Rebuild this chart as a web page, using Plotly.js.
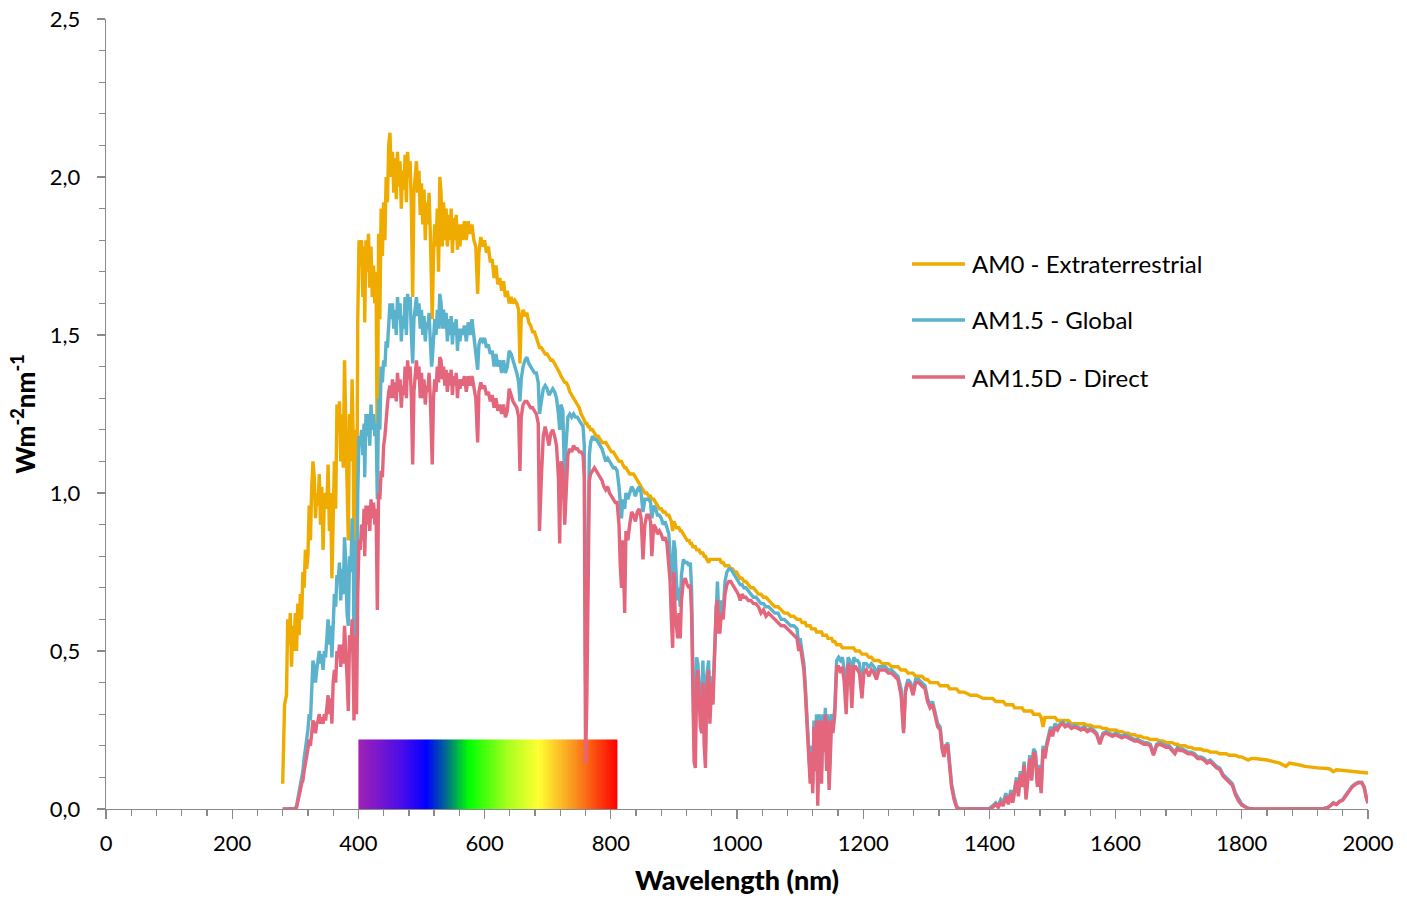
<!DOCTYPE html>
<html><head><meta charset="utf-8">
<script src="https://cdn.plot.ly/plotly-3.0.1.min.js"></script>
<style>html,body{margin:0;padding:0;background:#fff;}#chart{width:1407px;height:899px;}</style>
</head><body><div id="chart"></div>
<script>
// Wavelength (nm)
const wl = [
280,283,286,288,290,292,294,296,298,300,
302,304,306,308,310,312,314,316,318,320,
322,324,326,328,330,332,334,336,338,340,
342,344,346,348,350,352,354,356,358,360,
362,364,366,368,370,372,374,376,378,380,
382,384,386,388,390,392,393,395,397,399,
401,403,405,407,409,410,412,414,416,418,
420,422,424,426,428,430,432,434,436,438,
440,442,444,446,448,450,452,454,456,458,
460,462,464,466,468,470,472,474,476,478,
480,482,484,486,488,490,492,494,496,498,
500,502,504,506,508,510,512,514,516,517,
519,521,523,525,527,529,531,533,535,537,
539,541,543,545,547,549,551,553,555,557,
559,561,563,565,568,571,574,577,580,583,
586,589,591,594,597,600,603,606,609,612,
615,618,621,624,627,630,633,636,639,642,
645,648,651,654,656,658,661,664,667,670,
673,676,679,682,685,687,690,693,696,699,
702,705,708,711,714,717,719,721,724,727,
729,732,735,738,741,744,747,750,753,756,
758,760,762,764,766,768,771,774,777,780,
783,786,789,792,795,798,801,804,807,810,
813,815,817,819,822,824,827,830,833,836,
839,842,845,848,851,854,857,860,863,865,
868,871,874,877,880,883,886,889,892,894,
896,898,900,902,904,906,908,910,912,915,
918,921,924,926,928,930,932,934,936,938,
940,942,944,946,948,950,952,955,957,960,
962,965,967,969,971,973,975,978,981,984,
987,990,993,996,999,1002,1005,1008,1011,1014,
1018,1022,1026,1030,1034,1038,1042,1046,1050,1055,
1060,1065,1070,1075,1080,1085,1090,1095,1098,1100,
1103,1106,1108,1110,1112,1114,1116,1118,1120,1122,
1124,1126,1128,1130,1132,1134,1136,1138,1140,1142,
1144,1146,1148,1150,1152,1155,1158,1161,1164,1167,
1170,1173,1176,1179,1182,1185,1188,1191,1194,1198,
1201,1205,1209,1213,1217,1221,1225,1230,1235,1240,
1245,1250,1255,1260,1264,1267,1271,1275,1279,1283,
1288,1293,1298,1302,1306,1310,1314,1318,1322,1325,
1328,1331,1334,1337,1340,1344,1348,1352,1360,1370,
1380,1390,1400,1405,1410,1414,1418,1422,1426,1430,
1434,1437,1440,1443,1446,1449,1452,1455,1458,1461,
1464,1467,1470,1473,1476,1479,1482,1485,1488,1491,
1494,1497,1500,1504,1508,1512,1516,1520,1525,1530,
1535,1540,1545,1550,1555,1560,1565,1570,1575,1580,
1585,1590,1595,1600,1605,1610,1615,1620,1625,1630,
1635,1640,1645,1650,1655,1660,1665,1670,1675,1680,
1685,1690,1694,1698,1702,1706,1710,1715,1720,1725,
1730,1735,1740,1745,1750,1755,1760,1765,1770,1775,
1780,1785,1790,1795,1800,1805,1810,1815,1820,1840,
1860,1870,1875,1890,1900,1920,1930,1936,1940,1945,
1950,1955,1960,1965,1970,1975,1980,1985,1990,1994,
1997,2000];

// AM0 - Extraterrestrial (W m-2 nm-1)
const am0 = [
0.08,0.33,0.36,0.60,0.52,0.62,0.45,0.58,0.50,0.62,
0.50,0.65,0.55,0.68,0.60,0.75,0.70,0.82,0.76,0.80,
0.96,0.85,1.02,1.10,1.05,0.92,1.00,0.96,1.06,0.90,
1.02,0.82,0.98,1.00,0.95,1.09,0.88,1.00,0.73,1.00,
1.10,0.95,1.28,1.22,1.29,1.10,1.25,1.08,1.42,1.22,
0.95,0.85,1.25,1.10,1.36,1.15,0.70,1.20,0.72,1.55,
1.80,1.72,1.80,1.62,1.78,1.54,1.80,1.70,1.82,1.65,
1.78,1.62,1.72,1.60,1.70,1.07,1.82,1.55,1.90,1.75,
1.92,1.80,2.00,1.92,2.10,2.14,2.00,2.08,1.95,2.06,
1.93,2.08,1.97,2.05,1.90,2.02,1.96,2.07,1.92,2.08,
2.00,2.05,1.90,1.62,1.95,2.02,2.05,1.95,2.02,1.88,
1.98,1.85,1.96,1.80,1.92,1.85,1.95,1.82,1.60,1.55,
1.75,1.85,1.78,1.90,1.70,2.00,1.95,1.78,1.92,1.80,
1.90,1.78,1.88,1.80,1.90,1.76,1.87,1.80,1.88,1.77,
1.85,1.78,1.85,1.80,1.86,1.80,1.86,1.82,1.85,1.80,
1.78,1.63,1.76,1.81,1.78,1.80,1.76,1.78,1.73,1.74,
1.68,1.72,1.66,1.68,1.64,1.67,1.62,1.64,1.60,1.62,
1.60,1.61,1.60,1.58,1.41,1.55,1.58,1.56,1.57,1.54,
1.53,1.51,1.51,1.49,1.47,1.46,1.46,1.45,1.44,1.44,
1.43,1.42,1.42,1.41,1.40,1.39,1.38,1.37,1.36,1.35,
1.35,1.34,1.32,1.31,1.30,1.29,1.28,1.27,1.25,1.24,
1.23,1.22,1.22,1.21,1.21,1.20,1.20,1.19,1.18,1.18,
1.17,1.16,1.16,1.16,1.15,1.14,1.13,1.13,1.12,1.11,
1.10,1.10,1.10,1.09,1.08,1.08,1.07,1.06,1.06,1.06,
1.05,1.04,1.03,1.02,1.01,1.00,1.00,0.99,0.99,0.98,
0.98,0.97,0.96,0.95,0.95,0.94,0.94,0.93,0.93,0.92,
0.91,0.88,0.91,0.90,0.89,0.89,0.89,0.88,0.88,0.87,
0.86,0.85,0.85,0.84,0.84,0.83,0.83,0.83,0.82,0.82,
0.82,0.81,0.81,0.81,0.80,0.80,0.79,0.78,0.79,0.79,
0.79,0.79,0.79,0.79,0.79,0.79,0.78,0.78,0.77,0.77,
0.77,0.76,0.76,0.75,0.75,0.74,0.73,0.73,0.72,0.72,
0.71,0.70,0.70,0.69,0.68,0.68,0.67,0.67,0.66,0.65,
0.64,0.64,0.63,0.62,0.62,0.61,0.61,0.60,0.60,0.60,
0.59,0.59,0.59,0.58,0.58,0.58,0.58,0.57,0.57,0.57,
0.57,0.56,0.56,0.56,0.56,0.56,0.55,0.55,0.55,0.55,
0.54,0.54,0.54,0.54,0.53,0.53,0.52,0.52,0.52,0.51,
0.51,0.51,0.51,0.51,0.51,0.51,0.50,0.50,0.50,0.49,
0.49,0.49,0.48,0.48,0.47,0.47,0.47,0.46,0.46,0.46,
0.45,0.45,0.45,0.44,0.44,0.44,0.43,0.43,0.43,0.42,
0.42,0.42,0.41,0.41,0.40,0.40,0.40,0.40,0.39,0.39,
0.39,0.39,0.39,0.38,0.38,0.38,0.38,0.37,0.37,0.36,
0.36,0.35,0.35,0.35,0.34,0.34,0.34,0.34,0.33,0.33,
0.33,0.33,0.32,0.32,0.32,0.32,0.32,0.31,0.31,0.31,
0.31,0.31,0.30,0.30,0.30,0.30,0.29,0.26,0.29,0.29,
0.29,0.29,0.29,0.29,0.28,0.28,0.28,0.28,0.28,0.27,
0.27,0.27,0.27,0.27,0.265,0.265,0.26,0.26,0.26,0.255,
0.255,0.25,0.25,0.25,0.245,0.245,0.24,0.24,0.235,0.235,
0.23,0.23,0.225,0.225,0.22,0.22,0.22,0.215,0.215,0.21,
0.21,0.21,0.205,0.205,0.20,0.20,0.20,0.195,0.195,0.19,
0.19,0.19,0.185,0.185,0.18,0.18,0.18,0.175,0.175,0.175,
0.17,0.17,0.17,0.165,0.165,0.16,0.155,0.16,0.16,0.155,
0.145,0.135,0.145,0.14,0.135,0.13,0.13,0.128,0.126,0.118,
0.124,0.123,0.122,0.121,0.12,0.119,0.118,0.117,0.116,0.115,
0.115,0.114];

// AM1.5 - Global
const am15g = [
0,0,0,0,0,0,0,0,0,0.002,
0.01,0.03,0.05,0.08,0.10,0.12,0.16,0.20,0.22,0.25,
0.30,0.28,0.40,0.47,0.45,0.40,0.44,0.47,0.50,0.46,
0.49,0.44,0.50,0.48,0.55,0.60,0.52,0.58,0.48,0.62,
0.68,0.64,0.74,0.72,0.78,0.66,0.76,0.68,0.86,0.78,
0.62,0.58,0.80,0.75,0.92,0.80,0.48,0.85,0.52,1.00,
1.18,1.15,1.20,1.12,1.22,1.05,1.25,1.18,1.25,1.15,
1.28,1.20,1.25,1.18,1.22,0.98,1.30,1.20,1.40,1.35,
1.42,1.40,1.48,1.46,1.56,1.60,1.55,1.60,1.52,1.58,
1.50,1.62,1.55,1.60,1.48,1.56,1.52,1.62,1.50,1.63,
1.58,1.62,1.50,1.41,1.55,1.60,1.62,1.56,1.60,1.52,
1.58,1.50,1.56,1.48,1.54,1.52,1.57,1.48,1.40,1.42,
1.50,1.55,1.50,1.58,1.52,1.63,1.60,1.52,1.58,1.52,
1.57,1.48,1.55,1.50,1.56,1.47,1.54,1.50,1.55,1.45,
1.52,1.48,1.52,1.50,1.53,1.48,1.54,1.50,1.55,1.50,
1.46,1.39,1.47,1.49,1.48,1.49,1.46,1.47,1.44,1.45,
1.40,1.44,1.40,1.42,1.38,1.42,1.38,1.40,1.45,1.44,
1.42,1.40,1.38,1.35,1.29,1.36,1.40,1.42,1.43,1.41,
1.40,1.39,1.38,1.38,1.35,1.25,1.30,1.33,1.34,1.33,
1.31,1.32,1.33,1.32,1.30,1.25,1.20,1.28,1.26,1.02,
1.15,1.24,1.25,1.24,1.25,1.24,1.24,1.23,1.22,1.21,
1.15,0.40,0.55,0.95,1.12,1.16,1.18,1.17,1.17,1.16,
1.15,1.14,1.12,1.10,1.11,1.10,1.09,1.08,1.08,1.07,
1.02,0.96,0.92,0.98,0.95,1.00,0.98,1.00,1.02,1.01,
0.99,1.01,1.02,1.00,0.94,0.98,0.98,0.98,0.97,0.92,
0.96,0.95,0.93,0.93,0.92,0.90,0.91,0.89,0.87,0.80,
0.76,0.72,0.85,0.82,0.72,0.66,0.70,0.64,0.74,0.79,
0.78,0.78,0.77,0.78,0.70,0.40,0.20,0.25,0.48,0.46,
0.40,0.30,0.35,0.47,0.30,0.18,0.42,0.47,0.30,0.42,
0.38,0.55,0.68,0.72,0.62,0.60,0.66,0.62,0.72,0.75,
0.76,0.76,0.75,0.74,0.73,0.72,0.71,0.71,0.70,0.70,
0.69,0.68,0.67,0.67,0.66,0.65,0.65,0.64,0.64,0.63,
0.62,0.62,0.60,0.60,0.59,0.58,0.58,0.57,0.52,0.54,
0.50,0.46,0.40,0.32,0.22,0.15,0.10,0.20,0.08,0.28,
0.15,0.30,0.05,0.30,0.26,0.12,0.30,0.20,0.32,0.15,
0.30,0.08,0.25,0.30,0.26,0.32,0.47,0.48,0.47,0.48,
0.44,0.34,0.48,0.47,0.36,0.48,0.47,0.47,0.46,0.38,
0.46,0.46,0.45,0.46,0.45,0.43,0.45,0.45,0.45,0.44,
0.44,0.43,0.42,0.38,0.25,0.38,0.41,0.40,0.37,0.41,
0.41,0.40,0.39,0.35,0.33,0.34,0.30,0.27,0.26,0.20,
0.17,0.20,0.21,0.15,0.08,0.04,0.01,0,0,0,
0,0,0.002,0.01,0.02,0.01,0.03,0.02,0.05,0.02,
0.06,0.03,0.07,0.10,0.05,0.12,0.08,0.15,0.04,0.12,
0.17,0.10,0.19,0.18,0.08,0.14,0.06,0.20,0.17,0.21,
0.24,0.26,0.24,0.27,0.26,0.27,0.275,0.265,0.27,0.26,
0.265,0.26,0.255,0.26,0.25,0.255,0.25,0.24,0.21,0.24,
0.245,0.24,0.235,0.24,0.235,0.23,0.235,0.23,0.225,0.22,
0.22,0.215,0.21,0.21,0.205,0.175,0.205,0.21,0.205,0.20,
0.20,0.19,0.18,0.195,0.19,0.19,0.185,0.18,0.18,0.175,
0.165,0.165,0.16,0.15,0.155,0.145,0.135,0.13,0.11,0.10,
0.09,0.08,0.05,0.03,0.015,0.008,0.003,0.001,0,0,
0,0,0,0,0,0,0.002,0.005,0.01,0.02,
0.015,0.025,0.03,0.045,0.06,0.072,0.08,0.085,0.085,0.07,
0.04,0.02];

// AM1.5D - Direct
const am15d = [
0,0,0,0,0,0,0,0,0,0.001,
0.005,0.02,0.04,0.06,0.08,0.09,0.12,0.14,0.16,0.19,
0.22,0.20,0.24,0.28,0.27,0.24,0.27,0.28,0.30,0.27,
0.29,0.27,0.30,0.28,0.32,0.36,0.30,0.35,0.27,0.40,
0.44,0.40,0.50,0.48,0.52,0.45,0.52,0.46,0.58,0.52,
0.42,0.31,0.55,0.50,0.60,0.42,0.28,0.55,0.30,0.68,
0.85,0.82,0.90,0.85,0.95,0.80,0.96,0.90,0.96,0.88,
0.98,0.92,0.97,0.90,0.95,0.63,1.00,0.98,1.07,1.05,
1.15,1.18,1.25,1.28,1.32,1.34,1.30,1.36,1.30,1.35,
1.29,1.38,1.32,1.36,1.27,1.34,1.31,1.40,1.30,1.42,
1.36,1.40,1.30,1.09,1.32,1.38,1.42,1.36,1.40,1.30,
1.38,1.30,1.36,1.28,1.34,1.32,1.38,1.30,1.15,1.09,
1.30,1.36,1.32,1.40,1.35,1.43,1.42,1.36,1.40,1.34,
1.39,1.32,1.38,1.34,1.39,1.31,1.37,1.34,1.38,1.30,
1.36,1.33,1.36,1.34,1.37,1.32,1.37,1.34,1.37,1.34,
1.30,1.16,1.32,1.35,1.33,1.34,1.31,1.32,1.29,1.31,
1.27,1.30,1.26,1.28,1.25,1.28,1.24,1.26,1.33,1.31,
1.29,1.28,1.27,1.24,1.07,1.24,1.28,1.29,1.29,1.28,
1.27,1.27,1.26,1.25,1.22,0.88,1.05,1.18,1.21,1.18,
1.15,1.19,1.20,1.18,1.15,1.05,0.84,1.10,1.08,0.90,
0.98,1.12,1.14,1.13,1.15,1.14,1.14,1.13,1.13,1.12,
1.05,0.145,0.34,0.85,1.04,1.06,1.07,1.08,1.07,1.06,
1.05,1.04,1.02,1.01,1.02,1.00,0.99,0.98,0.97,0.97,
0.90,0.77,0.70,0.85,0.62,0.88,0.85,0.90,0.94,0.93,
0.91,0.94,0.95,0.92,0.79,0.90,0.93,0.93,0.91,0.80,
0.90,0.89,0.87,0.88,0.87,0.85,0.86,0.84,0.78,0.72,
0.60,0.51,0.75,0.62,0.58,0.54,0.62,0.54,0.66,0.72,
0.73,0.71,0.70,0.71,0.62,0.35,0.15,0.13,0.40,0.44,
0.35,0.26,0.24,0.40,0.20,0.13,0.38,0.44,0.27,0.40,
0.33,0.50,0.64,0.66,0.56,0.56,0.62,0.60,0.68,0.71,
0.72,0.72,0.71,0.70,0.69,0.68,0.66,0.68,0.67,0.67,
0.66,0.66,0.65,0.65,0.64,0.62,0.63,0.61,0.62,0.61,
0.60,0.59,0.58,0.58,0.57,0.56,0.55,0.54,0.50,0.52,
0.48,0.44,0.38,0.30,0.20,0.13,0.08,0.18,0.05,0.26,
0.12,0.28,0.01,0.28,0.24,0.08,0.28,0.18,0.30,0.12,
0.28,0.06,0.22,0.28,0.24,0.30,0.45,0.45,0.43,0.45,
0.40,0.30,0.46,0.45,0.32,0.45,0.45,0.44,0.43,0.35,
0.43,0.44,0.42,0.44,0.43,0.41,0.44,0.44,0.44,0.43,
0.43,0.42,0.41,0.36,0.24,0.37,0.40,0.39,0.36,0.40,
0.40,0.39,0.38,0.34,0.32,0.33,0.29,0.26,0.25,0.19,
0.165,0.20,0.20,0.14,0.07,0.03,0.005,0,0,0,
0,0,0,0.005,0.015,0.005,0.02,0.01,0.04,0.015,
0.05,0.02,0.06,0.09,0.04,0.11,0.07,0.14,0.03,0.11,
0.16,0.09,0.18,0.17,0.07,0.13,0.05,0.19,0.16,0.20,
0.23,0.25,0.23,0.26,0.25,0.265,0.27,0.26,0.265,0.255,
0.26,0.255,0.25,0.255,0.245,0.25,0.245,0.235,0.205,0.235,
0.24,0.235,0.23,0.235,0.23,0.225,0.23,0.225,0.22,0.215,
0.215,0.21,0.205,0.205,0.20,0.17,0.20,0.205,0.20,0.195,
0.195,0.185,0.175,0.19,0.185,0.185,0.18,0.175,0.175,0.17,
0.16,0.16,0.155,0.145,0.15,0.14,0.13,0.125,0.105,0.095,
0.085,0.075,0.045,0.025,0.012,0.006,0.002,0.001,0,0,
0,0,0,0,0,0,0.001,0.004,0.009,0.018,
0.014,0.023,0.028,0.043,0.058,0.07,0.078,0.083,0.083,0.068,
0.038,0.018];

const seriesNames = ['AM0 - Extraterrestrial', 'AM1.5 - Global', 'AM1.5D - Direct'];
const seriesColors = ['#F0AB00', '#5BB2CC', '#E4667C'];

// Visible-light colour band (nm range, top value) and its colour stops
const visibleBand = [400, 810];
const bandTop = 0.22;
const bandStops = [
  [400, 'rgb(160,34,178)'], [470, 'rgb(72,12,236)'], [508, 'rgb(0,0,255)'],
  [540, 'rgb(0,112,140)'], [575, 'rgb(0,255,0)'], [635, 'rgb(165,255,30)'],
  [685, 'rgb(255,255,50)'], [740, 'rgb(250,150,30)'], [810, 'rgb(255,0,0)']
];

if (wl.length !== am0.length || wl.length !== am15g.length || wl.length !== am15d.length) {
  console.error('length mismatch', wl.length, am0.length, am15g.length, am15d.length);
}

const span = visibleBand[1] - visibleBand[0];
const colorscale = bandStops.map(s => [(s[0] - visibleBand[0]) / span, s[1]]);
const bandZ = [];
for (let w = visibleBand[0] + 1; w < visibleBand[1]; w += 2) bandZ.push(w);

const traces = [{
  type: 'heatmap', x0: visibleBand[0] + 1, dx: 2, y: [0, bandTop], z: [bandZ],
  colorscale: colorscale, zmin: visibleBand[0], zmax: visibleBand[1],
  showscale: false, hoverinfo: 'skip', showlegend: false
}];
[am0, am15g, am15d].forEach((vals, i) => {
  traces.push({
    type: 'scatter', mode: 'lines', x: wl, y: vals, name: seriesNames[i],
    line: {color: seriesColors[i], width: 3.4}, showlegend: false
  });
});

// Legend drawn in paper coordinates (line sample + label per series)
const legendX0 = 0.6387, legendX1 = 0.6807, legendTextX = 0.6846;
const legendY = [0.6899, 0.6190, 0.5468];
const shapes = [], annotations = [];
seriesNames.forEach((name, i) => {
  shapes.push({type: 'line', xref: 'paper', yref: 'paper',
    x0: legendX0, x1: legendX1, y0: legendY[i], y1: legendY[i],
    line: {color: seriesColors[i], width: 3.4}});
  annotations.push({xref: 'paper', yref: 'paper', x: legendTextX, y: legendY[i],
    xanchor: 'left', yanchor: 'middle', text: name, showarrow: false,
    font: {size: 24, color: '#000'}});
});

const axisColor = '#8a8a8a';
const layout = {
  width: 1407, height: 899,
  margin: {l: 106, r: 39, t: 19, b: 90},
  paper_bgcolor: '#fff', plot_bgcolor: '#fff',
  separators: ',.',
  font: {family: 'Lato, "Open Sans", sans-serif', color: '#000', size: 22},
  showlegend: false,
  shapes: shapes,
  annotations: annotations,
  xaxis: {
    range: [0, 2000], dtick: 200, tick0: 0,
    showline: true, linecolor: axisColor, linewidth: 1.3,
    ticks: 'outside', ticklen: 9, tickwidth: 1.3, tickcolor: axisColor,
    minor: {dtick: 40, ticks: 'outside', ticklen: 6, tickwidth: 1.3, tickcolor: axisColor},
    showgrid: false, zeroline: false,
    tickfont: {size: 22}, ticklabelstandoff: 5,
    title: {text: 'Wavelength (nm)', font: {size: 27, weight: 900}, standoff: 16}
  },
  yaxis: {
    range: [0, 2.5], dtick: 0.5, tick0: 0, tickformat: '.1f',
    showline: true, linecolor: axisColor, linewidth: 1.3,
    ticks: 'outside', ticklen: 8, tickwidth: 1.3, tickcolor: axisColor,
    minor: {dtick: 0.1, ticks: 'outside', ticklen: 6, tickwidth: 1.3, tickcolor: axisColor},
    showgrid: false, zeroline: false,
    tickfont: {size: 22}, ticklabelstandoff: 12,
    title: {text: 'Wm<sup>-2</sup>nm<sup>-1</sup>', font: {size: 26, weight: 900}, standoff: 6}
  }
};

Plotly.newPlot('chart', traces, layout, {displayModeBar: false, staticPlot: true});
</script>
</body></html>
